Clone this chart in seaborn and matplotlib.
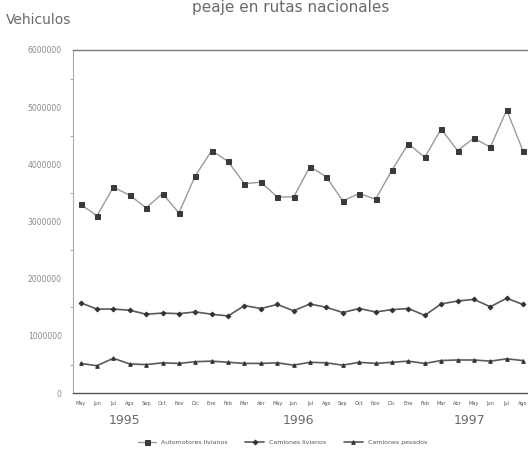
import numpy as np
import pandas as pd
import matplotlib.pyplot as plt
import seaborn as sns

meses = ["May", "Jun", "Jul", "Ago", "Sep", "Oct", "Nov", "Dic",
         "Ene", "Feb", "Mar", "Abr", "May", "Jun", "Jul", "Ago", "Sep", "Oct", "Nov", "Dic",
         "Ene", "Feb", "Mar", "Abr", "May", "Jun", "Jul", "Ago"]
anios = ["1995", "1996", "1997"]

automotores_livianos = [3300000, 3100000, 3600000, 3460000, 3240000, 3490000, 3150000, 3800000,
                        4240000, 4050000, 3660000, 3690000, 3430000, 3430000, 3960000, 3780000,
                        3360000, 3490000, 3390000, 3900000, 4360000, 4120000, 4620000, 4240000,
                        4460000, 4300000, 4950000, 4230000]
camiones_livianos = [1580000, 1470000, 1470000, 1450000, 1380000, 1400000, 1390000, 1420000,
                     1380000, 1350000, 1530000, 1480000, 1550000, 1440000, 1560000, 1500000,
                     1410000, 1480000, 1420000, 1460000, 1480000, 1360000, 1560000, 1610000,
                     1640000, 1510000, 1660000, 1550000]
camiones_pesados = [520000, 480000, 610000, 510000, 500000, 530000, 520000, 550000,
                    560000, 540000, 520000, 520000, 530000, 490000, 540000, 530000,
                    490000, 540000, 520000, 540000, 560000, 520000, 570000, 580000,
                    580000, 560000, 600000, 570000]

df = pd.DataFrame({
    "mes": np.arange(len(meses)),
    "Automotores livianos": automotores_livianos,
    "Camiones livianos": camiones_livianos,
    "Camiones pesados": camiones_pesados,
})

sns.set_style("white")
plt.rcParams["font.family"] = ["DejaVu Sans"]
gris = "#6a6a6a"

fig = plt.figure(figsize=(5.28, 4.54), dpi=100)
ax = fig.add_axes([0.138, 0.134, 0.862, 0.756])

sns.lineplot(data=df, x="mes", y="Automotores livianos", ax=ax, color="#9a9a9a", lw=1.0,
             marker="s", markersize=3.6, markerfacecolor="#3a3a3a", markeredgecolor="#3a3a3a",
             label="Automotores livianos")
sns.lineplot(data=df, x="mes", y="Camiones livianos", ax=ax, color="#5a5a5a", lw=1.2,
             marker="D", markersize=2.4, markerfacecolor="#333333", markeredgecolor="#333333",
             label="Camiones livianos")
sns.lineplot(data=df, x="mes", y="Camiones pesados", ax=ax, color="#5a5a5a", lw=1.2,
             marker="^", markersize=2.6, markerfacecolor="#333333", markeredgecolor="#333333",
             label="Camiones pesados")

ax.set_xlim(-0.47, 27.3)
ax.set_ylim(0, 6000000)
ax.set_yticks(np.arange(0, 6000001, 1000000))
ax.set_yticklabels([f"{v:d}" for v in range(0, 6000001, 1000000)], fontsize=5.5, color="#8a8a8a")
ax.set_yticks(np.arange(500000, 6000000, 1000000), minor=True)
ax.set_xticks(df["mes"])
ax.set_xticklabels(meses, fontsize=3.6, color="#555555")
ax.tick_params(axis="y", which="major", length=4, width=0.8, color="#777777", pad=4, direction="out")
ax.tick_params(axis="y", which="minor", length=2, width=0.6, color="#999999", left=True)
ax.tick_params(axis="x", length=2, width=0.6, color="#777777", pad=5, direction="inout")
ax.set_xlabel("")
ax.set_ylabel("")

ax.spines["right"].set_visible(False)
ax.spines["left"].set_color("#aaaaaa")
ax.spines["left"].set_linewidth(0.8)
ax.spines["bottom"].set_color("#555555")
ax.spines["bottom"].set_linewidth(1.0)
ax.spines["top"].set_color("#777777")
ax.spines["top"].set_linewidth(1.0)

# etiquetas de año bajo los meses
for anio, xpos in zip(anios, [2.7, 13.3, 23.7]):
    ax.text(xpos, -0.062, anio, transform=ax.get_xaxis_transform(), ha="center", va="top",
            fontsize=9, color=gris)

ax.legend(loc="upper center", bbox_to_anchor=(0.46, -0.12), ncol=3, frameon=False,
          fontsize=4.5, handlelength=3, columnspacing=2.8, labelcolor="#555555")

fig.text(0.55, 0.999, "peaje en rutas nacionales", ha="center", va="top",
         fontsize=11, color=gris)
fig.text(0.012, 0.955, "Vehiculos", ha="left", va="center", fontsize=10, color=gris)

fig.savefig("out.png", dpi=100)
